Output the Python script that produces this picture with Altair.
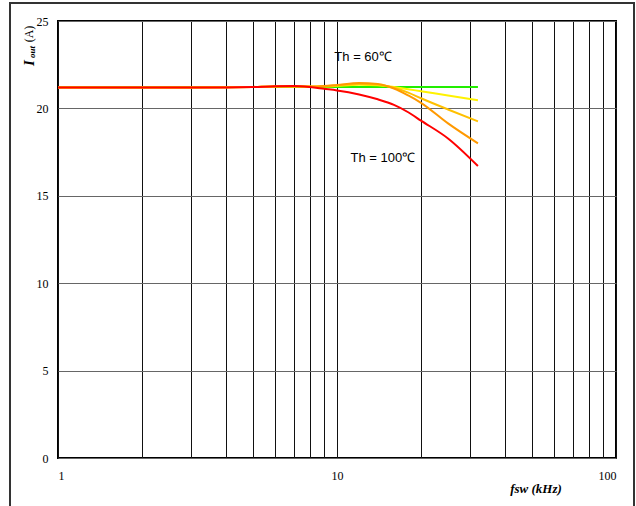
import altair as alt
import pandas as pd

# ---- data ----
freq = [1, 2, 3, 4, 5, 6, 7, 8, 9, 10, 12, 14, 16, 18, 20, 25, 32]
i_60 = [21.22, 21.22, 21.22, 21.22, 21.22, 21.22, 21.22, 21.22, 21.22, 21.22, 21.22, 21.22, 21.22, 21.22, 21.22, 21.22, 21.22]
i_70 = [21.2, 21.2, 21.2, 21.21, 21.23, 21.26, 21.26, 21.24, 21.25, 21.29, 21.35, 21.33, 21.22, 21.1, 20.98, 20.74, 20.46]
i_80 = [21.2, 21.2, 21.2, 21.21, 21.23, 21.26, 21.26, 21.25, 21.27, 21.32, 21.4, 21.36, 21.18, 20.9, 20.58, 19.94, 19.26]
i_90 = [21.2, 21.2, 21.2, 21.21, 21.23, 21.26, 21.26, 21.25, 21.28, 21.34, 21.45, 21.4, 21.14, 20.74, 20.32, 19.14, 18.0]
i_100 = [21.2, 21.2, 21.2, 21.2, 21.22, 21.27, 21.28, 21.22, 21.12, 21.03, 20.8, 20.52, 20.2, 19.78, 19.3, 18.28, 16.7]

series_names = ["60", "70", "80", "90", "100"]
series_values = [i_60, i_70, i_80, i_90, i_100]
series_colors = ["#22EE00", "#FFF200", "#FFC000", "#FF9900", "#FF0000"]

label_text = ["Th = 60\u2103", "Th = 100\u2103"]
label_f = [12.4, 14.6]
label_i = [22.95, 17.15]

x_grid = [1, 2, 3, 4, 5, 6, 7, 8, 9, 10, 20, 30, 40, 50, 60, 70, 80, 90, 100]
y_ticks = [0, 5, 10, 15, 20, 25]

W, H = 558, 437

xscale = alt.Scale(type="log", domain=[1, 100], nice=False)
yscale = alt.Scale(domain=[0, 25], nice=False)

xaxis = alt.Axis(values=x_grid, grid=True, gridColor="#111111", gridWidth=1, gridOpacity=1,
                 ticks=False, domain=False, labelPadding=12,
                 labelFont="Liberation Serif", labelFontSize=12, labelColor="black",
                 labelExpr="(datum.value == 1 || datum.value == 10 || datum.value == 100) ? datum.label : ''",
                 title=None)
yaxis = alt.Axis(values=y_ticks, grid=True, gridColor="#666666", gridWidth=1, gridOpacity=1,
                 ticks=False, domain=False, labelPadding=10,
                 labelFont="Liberation Serif", labelFontSize=12, labelColor="black",
                 title=None)

layers = []

# outer frame (decoration)
frame = alt.Chart(pd.DataFrame({"a": [0]})).mark_rect(
    fill=None, stroke="#333333", strokeWidth=2, clip=False
).encode(x=alt.value(-48), x2=alt.value(576), y=alt.value(-18), y2=alt.value(495))
layers.append(frame)

for name, vals, col in zip(series_names, series_values, series_colors):
    df = pd.DataFrame({"f": freq, "i": vals, "s": name})
    layers.append(
        alt.Chart(df).mark_line(color=col, strokeWidth=2, interpolate="monotone").encode(
            x=alt.X("f:Q", scale=xscale, axis=xaxis),
            y=alt.Y("i:Q", scale=yscale, axis=yaxis),
        )
    )

lab_df = pd.DataFrame({"f": label_f, "i": label_i, "t": label_text})
layers.append(
    alt.Chart(lab_df).mark_text(font="Liberation Sans", fontSize=13, color="black", align="center", baseline="middle").encode(
        x=alt.X("f:Q", scale=xscale), y=alt.Y("i:Q", scale=yscale), text="t:N"
    )
)

# y-axis title: I_out (A)
one = pd.DataFrame({"a": [0]})
layers.append(alt.Chart(one).mark_text(text="I", font="Liberation Serif", fontSize=15, fontWeight="bold",
                                       fontStyle="italic", angle=270, align="center", baseline="middle", clip=False)
              .encode(x=alt.value(-29), y=alt.value(42)))
layers.append(alt.Chart(one).mark_text(text="out", font="Liberation Serif", fontSize=9, fontWeight="bold",
                                       fontStyle="italic", angle=270, align="center", baseline="middle", clip=False)
              .encode(x=alt.value(-26), y=alt.value(31)))
layers.append(alt.Chart(one).mark_text(text="(A)", font="Liberation Serif", fontSize=12,
                                       angle=270, align="center", baseline="middle", clip=False)
              .encode(x=alt.value(-29), y=alt.value(13)))
# x-axis title
layers.append(alt.Chart(one).mark_text(text="fsw (kHz)", font="Liberation Serif", fontSize=13, fontWeight="bold",
                                       fontStyle="italic", align="center", baseline="middle", clip=False)
              .encode(x=alt.value(478), y=alt.value(468)))

chart = alt.layer(*layers).properties(
    width=W, height=H,
    autosize=alt.AutoSizeParams(type="none"),
    padding={"left": 58, "top": 21, "right": 20, "bottom": 48},
    background="white",
).configure_view(stroke="black", strokeWidth=2)

chart.save("out.html", embed_options={"renderer": "svg", "actions": False})
